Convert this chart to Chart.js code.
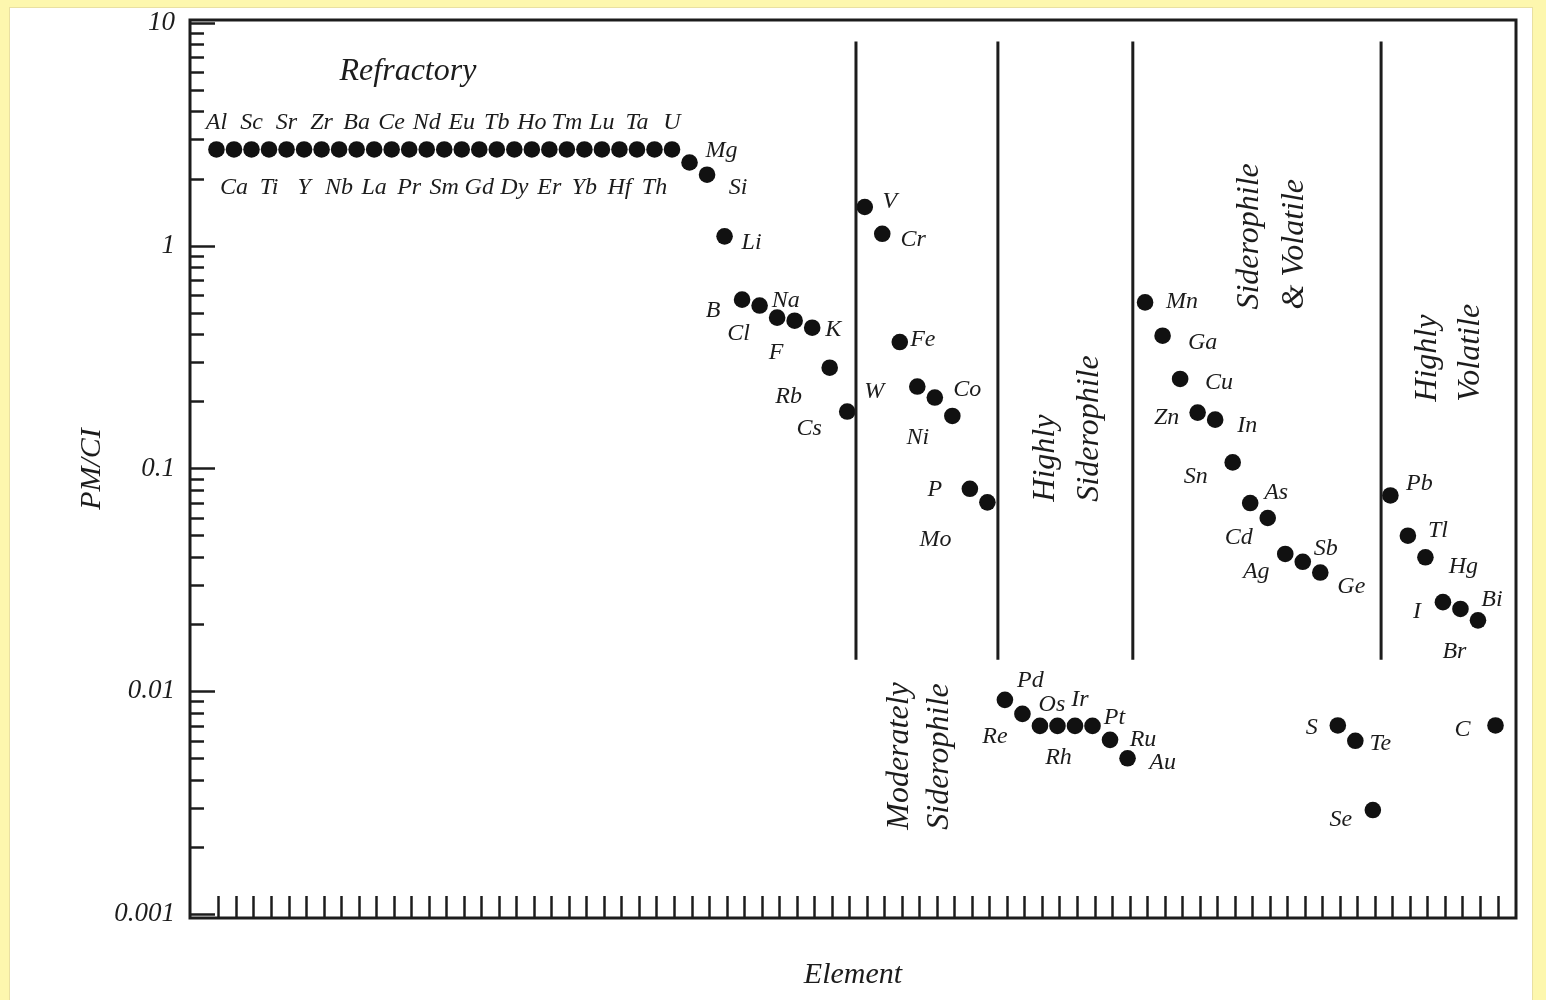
<!DOCTYPE html>
<html>
<head>
<meta charset="utf-8">
<script src="https://cdn.jsdelivr.net/npm/chart.js@4.4.1/dist/chart.umd.min.js"></script>
<style>
  html, body { margin: 0; padding: 0; background: #fdf7ae; }
  .panel { position: absolute; left: 9px; top: 7px; width: 1522px; height: 1000px; background: #fff; border: 1px solid #e9e0a2; }
  #chart { position: absolute; left: 0; top: 0; }
</style>
</head>
<body>
<div class="panel"></div>
<canvas id="chart" width="1546" height="1000"></canvas>
<script>
const elements = [
  "Al", "Ca", "Sc", "Ti", "Sr", "Y", "Zr", "Nb", "Ba", "La", "Ce", "Pr", "Nd", "Sm",
  "Eu", "Gd", "Tb", "Dy", "Ho", "Er", "Tm", "Yb", "Lu", "Hf", "Ta", "Th", "U",
  "Mg", "Si", "Li", "B", "Cl", "F", "Na", "K", "Rb", "Cs",
  "V", "Cr", "Fe", "W", "Ni", "Co", "P", "Mo",
  "Re", "Pd", "Os", "Rh", "Ir", "Pt", "Ru", "Au",
  "Mn", "Ga", "Cu", "Zn", "In", "Sn", "As", "Cd", "Ag", "Sb", "Ge", "S", "Te", "Se",
  "Pb", "Tl", "Hg", "I", "Br", "Bi", "C",
];

// PM/CI ratio per element (same order as elements)
const pmci = [
  2.7, 2.7, 2.7, 2.7, 2.7, 2.7, 2.7, 2.7, 2.7, 2.7, 2.7, 2.7, 2.7, 2.7,
  2.7, 2.7, 2.7, 2.7, 2.7, 2.7, 2.7, 2.7, 2.7, 2.7, 2.7, 2.7, 2.7,
  2.36, 2.08, 1.1, 0.572, 0.538, 0.475, 0.46, 0.428, 0.283, 0.18,
  1.49, 1.13, 0.369, 0.233, 0.208, 0.172, 0.081, 0.0704,
  0.00915, 0.00791, 0.00699, 0.00699, 0.00699, 0.00699, 0.00605, 0.005,
  0.556, 0.394, 0.252, 0.178, 0.1655, 0.1064, 0.0699, 0.0599, 0.0413, 0.0381, 0.0341, 0.00702, 0.00599, 0.00293,
  0.0756, 0.0499, 0.0399, 0.0251, 0.0234, 0.0208, 0.00702,
];

const yTickValues = [0.001, 0.01, 0.1, 1, 10];
const yTickLabels = ["0.001", "0.01", "0.1", "1", "10"];

// group dividers (x in element index units)
const dividers = [36.5, 44.6, 52.3, 66.47];

const groupTitles = [
  { lines: ["Refractory"], x: [10.93], y: 6.04, rotate: false },
  { lines: ["Moderately", "Siderophile"], x: [39.0, 41.3], y: 0.00239, rotate: true },
  { lines: ["Highly", "Siderophile"], x: [47.3, 49.86], y: 0.0709, rotate: true },
  { lines: ["Siderophile", "& Volatile"], x: [58.99, 61.55], y: 0.516, rotate: true },
  { lines: ["Highly", "Volatile"], x: [69.15, 71.55], y: 0.1993, rotate: true },
];

// label offsets in px from each dot (layout only)
const labelOffsets = {
  Mg: [32, -12], Si: [31, 13], Li: [27, 6], B: [-29, 11], Cl: [-21, 28], F: [-1, 35],
  Na: [-9, -20], K: [21, 2], Rb: [-41, 29], Cs: [-38, 17],
  V: [25, -5], Cr: [31, 6], Fe: [23, -2], W: [-43, 5], Ni: [-17, 40], Co: [15, -26],
  P: [-35, 1], Mo: [-52, 37],
  Re: [-10, 37], Pd: [8, -33], Os: [12, -21], Rh: [1, 32], Ir: [5, -26], Pt: [22, -8],
  Ru: [33, 0], Au: [35, 4],
  Mn: [37, -1], Ga: [40, 7], Cu: [39, 4], Zn: [-31, 5], In: [32, 6], Sn: [-37, 14],
  As: [26, -10], Cd: [-29, 20], Ag: [-29, 18], Sb: [23, -13], Ge: [31, 14],
  S: [-26, 2], Te: [25, 3], Se: [-32, 10],
  Pb: [29, -12], Tl: [30, -5], Hg: [38, 9], I: [-26, 10], Br: [-6, 43], Bi: [14, -21], C: [-33, 4],
};

const FONT = "'Liberation Serif', 'DejaVu Serif', serif";
const INK = "#1c1c1c";

const decorations = {
  id: "decorations",
  afterDatasetsDraw(chart) {
    const { ctx, chartArea: a } = chart;
    const xs = chart.scales.x;
    const ys = chart.scales.y;
    ctx.save();
    ctx.strokeStyle = INK;

    // y ticks pointing inward
    ctx.lineWidth = 2.5;
    for (let d = 0.001; d < 20; d *= 10) {
      for (let k = 1; k <= 9; k++) {
        const v = d * k;
        if (v > 10.01) break;
        const py = Math.round(ys.getPixelForValue(v)) + 0.5;
        const len = k === 1 ? 25 : 14;
        ctx.beginPath();
        ctx.moveTo(a.left, py);
        ctx.lineTo(a.left + len, py);
        ctx.stroke();
      }
    }

    // x ticks pointing up, one per element
    elements.forEach((el, i) => {
      const px = Math.round(xs.getPixelForValue(i) + 2) + 0.5;
      ctx.beginPath();
      ctx.moveTo(px, a.bottom);
      ctx.lineTo(px, a.bottom - 22);
      ctx.stroke();
    });

    // divider lines
    ctx.lineWidth = 3;
    dividers.forEach((d) => {
      const px = xs.getPixelForValue(d);
      ctx.beginPath();
      ctx.moveTo(px, ys.getPixelForValue(8.24));
      ctx.lineTo(px, ys.getPixelForValue(0.01384));
      ctx.stroke();
    });

    // frame
    ctx.lineWidth = 3;
    ctx.strokeRect(a.left, a.top, a.right - a.left, a.bottom - a.top);

    // element labels
    ctx.fillStyle = INK;
    ctx.font = "italic 24px " + FONT;
    ctx.textAlign = "center";
    ctx.textBaseline = "middle";
    elements.forEach((el, i) => {
      let off = labelOffsets[el];
      if (!off) off = i % 2 === 0 ? [0, -27] : [0, 38];
      const px = xs.getPixelForValue(i);
      const py = ys.getPixelForValue(pmci[i]);
      ctx.fillText(el, px + off[0], py + off[1]);
    });

    // group titles
    ctx.font = "italic 32px " + FONT;
    groupTitles.forEach((g) => {
      const py = ys.getPixelForValue(g.y);
      g.lines.forEach((line, j) => {
        const px = xs.getPixelForValue(g.x[j]);
        if (!g.rotate) {
          ctx.textAlign = "center";
          ctx.fillText(line, px, py);
        } else {
          ctx.save();
          ctx.translate(px, py);
          ctx.rotate(-Math.PI / 2);
          ctx.textAlign = "left";
          ctx.fillText(line, 0, 0);
          ctx.restore();
        }
      });
    });
    ctx.restore();
  },
};

new Chart(document.getElementById("chart"), {
  type: "scatter",
  data: {
    datasets: [
      {
        data: pmci.map((v, i) => ({ x: i, y: v })),
        pointRadius: 8.3,
        pointBackgroundColor: "#111",
        pointBorderWidth: 0,
        showLine: false,
      },
    ],
  },
  options: {
    responsive: false,
    animation: false,
    layout: { padding: { top: 20, right: 30, left: 0, bottom: 0 } },
    plugins: { legend: { display: false }, tooltip: { enabled: false } },
    scales: {
      x: {
        type: "linear",
        min: -1.51,
        max: 74.17,
        ticks: { display: false },
        grid: { display: false, drawTicks: false },
        border: { display: false },
        title: {
          display: true,
          text: "Element",
          color: INK,
          font: { family: FONT, size: 30, style: "italic" },
          padding: { top: 0, bottom: 7 },
        },
        afterFit: (s) => { s.height = 82; },
      },
      y: {
        type: "logarithmic",
        min: 0.00096,
        max: 10.29,
        grid: { display: false, drawTicks: false },
        border: { display: false },
        afterBuildTicks: (s) => { s.ticks = yTickValues.map((v) => ({ value: v })); },
        ticks: {
          autoSkip: false,
          padding: 15,
          color: INK,
          font: { family: FONT, size: 27, style: "italic" },
          callback: (v) => yTickLabels[yTickValues.indexOf(v)] ?? "",
        },
        title: {
          display: true,
          text: "PM/CI",
          color: INK,
          font: { family: FONT, size: 30, style: "italic" },
          padding: { top: 74 },
        },
        afterFit: (s) => {
          s.width = 190;
          s.paddingTop = 0;
          s.paddingBottom = 0;
        },
      },
    },
  },
  plugins: [decorations],
});
</script>
</body>
</html>
